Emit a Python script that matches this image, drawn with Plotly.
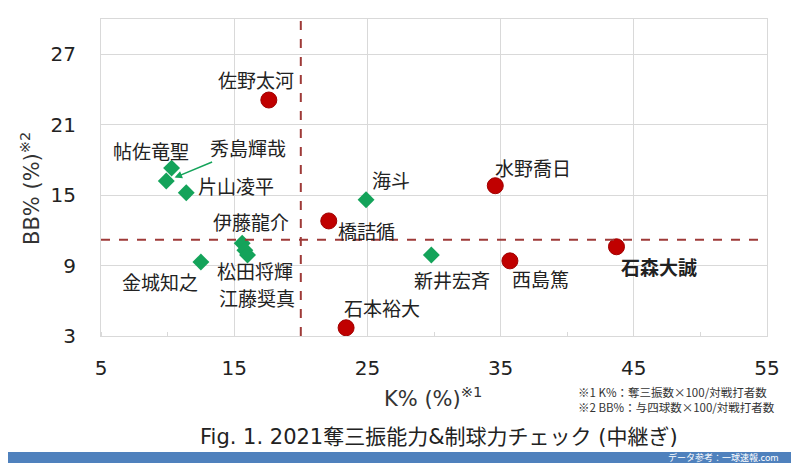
import plotly.graph_objects as go

# --- data -----------------------------------------------------------------
red_names = ["佐野太河", "橋詰循", "水野喬日", "石森大誠", "西島篤", "石本裕大"]
red_k = [17.6, 22.1, 34.6, 43.7, 35.7, 23.4]
red_bb = [23.1, 12.8, 15.8, 10.6, 9.4, 3.7]

green_names = ["帖佐竜聖", "秀島輝哉", "片山凌平", "海斗", "伊藤龍介",
               "松田将輝", "江藤奨真", "金城知之", "新井宏斉"]
green_k = [10.3, 9.9, 11.4, 24.9, 15.6, 15.8, 16.0, 12.5, 29.8]
green_bb = [17.3, 16.2, 15.2, 14.6, 10.9, 10.3, 9.9, 9.3, 9.9]

avg_k = 20.0
avg_bb = 11.2

x_ticks = [5, 15, 25, 35, 45, 55]
y_ticks = [3, 9, 15, 21, 27]

highlight = "石森大誠"

# --- label offsets (pixels, from the marker centre) -------------------------
label_shift = {
    "佐野太河": (-13, 21), "橋詰循": (38, -10), "水野喬日": (38, 18),
    "石森大誠": (43, -20), "西島篤": (31, -18), "石本裕大": (36, 20),
    "帖佐竜聖": (-21, 18), "片山凌平": (50, 7), "海斗": (25, 20),
    "伊藤龍介": (9, 22), "松田将輝": (10, -20), "江藤奨真": (9, -43),
    "金城知之": (-41, -19), "新井宏斉": (21, -25),
}
arrow_label = {"秀島輝哉": (82, -34)}

# page body has an 8px margin, so the figure is shrunk to fit the window
OFF = 8
W, H = 799 - OFF, 463 - OFF
PL, PR, PT, PB = 101, 767, 19, 336          # plot area in window pixels
L, T = PL - OFF, PT - OFF
R, B = 799 - PR, 463 - PB
PW, PH = PR - PL, PB - PT


def px(x):
    return (x - PL) / PW


def py(y):
    return (PB - y) / PH


RED = "#C00000"
GREEN = "#14A35A"
DASH = "#9E3A38"
GRID = "#D9D9D9"
JP = "Noto Sans CJK JP"
LAT = "DejaVu Sans, Noto Sans CJK JP"

fig = go.Figure()
fig.add_trace(go.Scatter(
    x=green_k, y=green_bb, mode="markers", text=green_names,
    marker=dict(symbol="diamond", size=13, color=GREEN),
    hovertemplate="%{text}<br>K%: %{x}<br>BB%: %{y}<extra></extra>",
    showlegend=False))
fig.add_trace(go.Scatter(
    x=red_k, y=red_bb, mode="markers", text=red_names,
    marker=dict(symbol="circle", size=16, color=RED,
                line=dict(color="#A00000", width=1)),
    hovertemplate="%{text}<br>K%: %{x}<br>BB%: %{y}<extra></extra>",
    showlegend=False))

# average lines
fig.add_shape(type="line", xref="x", yref="paper", x0=avg_k, x1=avg_k, y0=0, y1=1,
              line=dict(color=DASH, width=2, dash="dash"))
fig.add_shape(type="line", xref="paper", yref="y", x0=0, x1=1, y0=avg_bb, y1=avg_bb,
              line=dict(color=DASH, width=2, dash="dash"))

# point labels
for names, xs, ys in ((red_names, red_k, red_bb), (green_names, green_k, green_bb)):
    for n, x, y in zip(names, xs, ys):
        if n in arrow_label:
            ax, ay = arrow_label[n]
            fig.add_annotation(x=x, y=y, text=n, showarrow=True, ax=ax, ay=ay,
                               arrowhead=2, arrowsize=1, arrowwidth=1.5,
                               arrowcolor=GREEN, standoff=9,
                               font=dict(family=JP, size=19, color="#222222"))
            continue
        dx, dy = label_shift[n]
        txt = f"<b>{n}</b>" if n == highlight else n
        fig.add_annotation(x=x, y=y, text=txt, showarrow=False,
                           xshift=dx, yshift=dy,
                           font=dict(family=JP, size=19, color="#222222"))


def note(xw, yw, text, size, color="#333333", xanchor="center", **kw):
    fig.add_annotation(xref="paper", yref="paper", x=px(xw), y=py(yw),
                       xanchor=xanchor, yanchor="middle", text=text,
                       showarrow=False, font=dict(family=kw.pop("family", LAT),
                                                  size=size, color=color), **kw)


# axis titles
note(433, 397, "K% (%)<sup>※1</sup>", 21)
note(30, 189, "BB% (%)<sup>※2</sup>", 21, textangle=-90)

# footnotes
note(576, 399.5, "※1 K%：奪三振数×100/対戦打者数<br>※2 BB%：与四球数×100/対戦打者数",
     11.5, xanchor="left", align="left", family=JP)

# figure caption
note(439, 437, "Fig. 1. 2021奪三振能力&制球力チェック (中継ぎ)", 21, color="#222222")

# bottom banner
fig.add_shape(type="rect", xref="paper", yref="paper",
              x0=px(OFF - 2), x1=px(801), y0=py(465), y1=py(452),
              fillcolor="#4F81BD", line=dict(width=0), layer="above")
note(781, 457, "データ参考：一球速報.com", 9, color="#FFFFFF",
     xanchor="right", family=JP)

fig.update_xaxes(range=[5, 55], tickvals=x_ticks, showgrid=True, gridcolor=GRID,
                 gridwidth=1, zeroline=False, showline=True, linecolor=GRID,
                 mirror=True, ticks="", ticklabelstandoff=14,
                 minor=dict(dtick=5, ticks="inside", ticklen=4, tickcolor=GRID,
                            showgrid=False),
                 tickfont=dict(family=LAT, size=20, color="#222222"))
fig.update_yaxes(range=[3, 30], tickvals=y_ticks, showgrid=True, gridcolor=GRID,
                 gridwidth=1, zeroline=False, showline=True, linecolor=GRID,
                 mirror=True, ticks="", ticklabelstandoff=20,
                 tickfont=dict(family=LAT, size=20, color="#222222"))

fig.update_layout(
    width=W, height=H,
    margin=dict(l=L, r=R, t=T, b=B),
    paper_bgcolor="white", plot_bgcolor="white",
    hovermode="closest",
)

fig.write_html("out.html")
